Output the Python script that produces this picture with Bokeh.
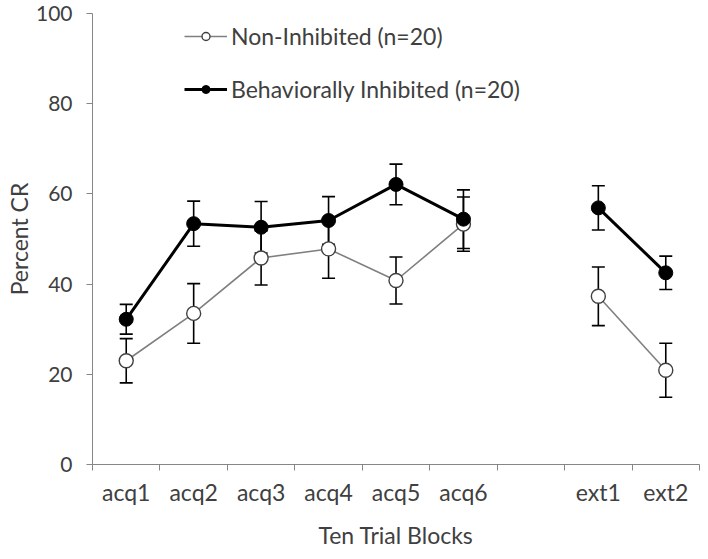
from bokeh.plotting import figure
from bokeh.models import (Range1d, FixedTicker, Whisker, TeeHead, ColumnDataSource,
                          Legend, LegendItem)
from bokeh.embed import file_html
from bokeh.resources import INLINE

# ---- data ----
blocks = ["acq1", "acq2", "acq3", "acq4", "acq5", "acq6", "ext1", "ext2"]
gap_label = ""
n_acq = 6

ni_mean = [23.0, 33.5, 45.8, 47.8, 40.8, 53.3, 37.3, 20.9]
ni_se = [4.9, 6.6, 6.0, 6.5, 5.2, 6.0, 6.5, 6.0]
bi_mean = [32.2, 53.4, 52.6, 54.1, 62.1, 54.4, 56.9, 42.5]
bi_se = [3.3, 5.0, 5.7, 5.3, 4.5, 6.5, 4.9, 3.7]

ni_label = "Non-Inhibited (n=20)"
bi_label = "Behaviorally Inhibited (n=20)"
y_ticks = [0, 20, 40, 60, 80, 100]

FONT = "Lato"
TXT = "#404040"
AX = "#868686"
FS = "23px"

# category slots (with an empty slot between acquisition and extinction)
slots = blocks[:n_acq] + [gap_label] + blocks[n_acq:]
centre = {name: i + 0.5 for i, name in enumerate(slots)}
bx = [centre[b] for b in blocks]

p = figure(width=700, height=551,
           x_range=Range1d(0, len(slots)),
           y_range=Range1d(0, 100),
           output_backend="svg", toolbar_location=None,
           min_border_left=92, min_border_right=1,
           min_border_top=13, min_border_bottom=85)
p.outline_line_color = None
p.grid.visible = False

# y axis
ya = p.yaxis[0]
ya.ticker = FixedTicker(ticks=y_ticks)
ya.axis_line_color = AX
ya.major_tick_line_color = AX
ya.major_tick_out = 6
ya.major_tick_in = 0
ya.minor_tick_line_color = None
ya.major_label_standoff = 14
ya.major_label_text_font = FONT
ya.major_label_text_font_size = "21px"
ya.major_label_text_color = TXT
ya.axis_label = "Percent CR"
ya.axis_label_text_font = FONT
ya.axis_label_text_font_size = FS
ya.axis_label_text_font_style = "normal"
ya.axis_label_text_color = TXT
ya.axis_label_standoff = 0

# x axis: labels at slot centres, tick marks at slot boundaries
xa = p.xaxis[0]
xa.ticker = FixedTicker(ticks=[centre[b] for b in blocks],
                        minor_ticks=list(range(len(slots) + 1)))
xa.major_label_overrides = {centre[b]: b for b in blocks}
xa.axis_line_color = AX
xa.major_tick_line_color = None
xa.major_tick_out = 0
xa.major_tick_in = 0
xa.minor_tick_line_color = AX
xa.minor_tick_out = 6
xa.minor_tick_in = 0
xa.major_label_standoff = 7
xa.major_label_text_font = FONT
xa.major_label_text_font_size = FS
xa.major_label_text_color = TXT
xa.axis_label = "Ten Trial Blocks"
xa.axis_label_text_font = FONT
xa.axis_label_text_font_size = FS
xa.axis_label_text_font_style = "normal"
xa.axis_label_text_color = TXT
xa.axis_label_standoff = 12

def src(mean, se):
    return ColumnDataSource(dict(x=bx, y=mean,
                                 upper=[m + s for m, s in zip(mean, se)],
                                 lower=[m - s for m, s in zip(mean, se)]))

ni_src = src(ni_mean, ni_se)
bi_src = src(bi_mean, bi_se)

# NI series
ni_l1 = p.line(bx[:n_acq], ni_mean[:n_acq], line_color="#7f7f7f", line_width=1.6)
p.line(bx[n_acq:], ni_mean[n_acq:], line_color="#7f7f7f", line_width=1.6)
for s in (ni_src, bi_src):
    p.add_layout(Whisker(base="x", upper="upper", lower="lower", source=s,
                         line_color="black", line_width=1.6,
                         upper_head=TeeHead(size=13, line_color="black", line_width=1.6),
                         lower_head=TeeHead(size=13, line_color="black", line_width=1.6)))
ni_pts = p.scatter("x", "y", source=ni_src, size=14, fill_color="white",
                   line_color="#404040", line_width=1.4)

# BI series
bi_l1 = p.line(bx[:n_acq], bi_mean[:n_acq], line_color="black", line_width=3)
p.line(bx[n_acq:], bi_mean[n_acq:], line_color="black", line_width=3)
bi_pts = p.scatter("x", "y", source=bi_src, size=14, fill_color="black",
                   line_color="black", line_width=1)

legend = Legend(items=[LegendItem(label=ni_label, renderers=[ni_l1, ni_pts]),
                       LegendItem(label=bi_label, renderers=[bi_l1, bi_pts])],
                location=(92, 361),
                glyph_width=43, glyph_height=20, label_height=20,
                spacing=25, padding=0, margin=0, label_standoff=4,
                border_line_color=None, background_fill_alpha=0,
                label_text_font=FONT, label_text_font_size=FS,
                label_text_color=TXT)
p.add_layout(legend)

open("out.html", "w").write(file_html(p, INLINE))
